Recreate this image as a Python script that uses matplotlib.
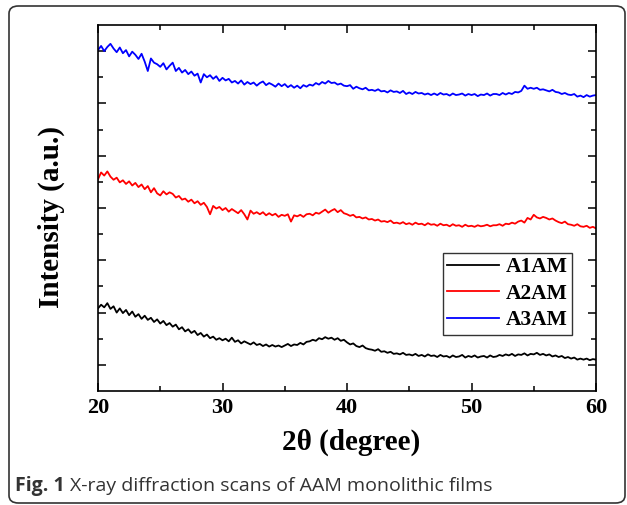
import numpy as np
import matplotlib
matplotlib.use("Agg")
import matplotlib.pyplot as plt
from matplotlib.patches import FancyBboxPatch

# 2-theta grid (degrees), 0.25 deg step
two_theta = np.arange(20.0, 60.0001, 0.25)

# Intensities (a.u., as plotted with stacking offsets)
a1am = [
    158, 165, 160, 168, 157, 162, 150, 158, 149, 155, 145, 152,
    142, 147, 138, 144, 136, 140, 132, 137, 129, 134, 126, 130,
    123, 127, 118, 122, 114, 118, 111, 115, 107, 111, 104, 108,
    101, 104, 98, 101, 97, 100, 95, 102, 94, 97, 91, 95,
    92, 89, 93, 88, 90, 86, 89, 85, 88, 85, 87, 84,
    87, 90, 86, 89, 88, 92, 89, 94, 95, 98, 96, 101,
    99, 103, 100, 102, 98, 101, 96, 98, 93, 89, 91, 86,
    84, 87, 82, 80, 79, 77, 80, 75, 76, 73, 75, 71,
    72, 70, 73, 69, 70, 68, 71, 67, 69, 66, 70, 67,
    68, 65, 69, 66, 67, 64, 68, 65, 66, 69, 64, 67,
    65, 68, 64, 66, 67, 64, 68, 65, 66, 69, 67, 70,
    68, 71, 67, 70, 69, 72, 68, 71, 70, 73, 69, 71,
    68, 70, 66, 68, 65, 67, 63, 65, 62, 64, 60, 62,
    60, 62, 59, 61, 60,
]

a2am = [
    405, 418, 412, 420, 410, 404, 408, 399, 403, 396, 401, 393,
    398, 390, 395, 386, 392, 380, 388, 378, 374, 382, 376, 380,
    377, 370, 373, 366, 368, 362, 366, 359, 363, 356, 360, 352,
    338, 354, 349, 352, 346, 350, 343, 348, 344, 340, 346, 338,
    328, 345, 339, 342, 338, 342, 336, 340, 336, 339, 333, 337,
    335, 338, 324, 336, 334, 337, 333, 338, 339, 336, 341, 339,
    343, 347, 341, 345, 348, 342, 346, 340, 338, 335, 337, 332,
    333, 330, 332, 328, 329, 326, 328, 324, 325, 323, 326, 321,
    322, 320, 323, 319, 321, 318, 322, 319, 320, 317, 321, 318,
    319, 316, 320, 317, 318, 315, 319, 316, 317, 314, 318, 315,
    316, 314, 317, 315, 316, 318, 315, 317, 317, 319, 316, 320,
    319, 322, 320, 324, 326, 322, 331, 328, 337, 332, 330, 333,
    331, 328, 330, 326, 323, 321, 324, 319, 318, 316, 319, 315,
    314, 316, 312, 314, 311,
]

a3am = [
    652, 660, 650, 658, 664, 655, 648, 657, 646, 652, 640, 649,
    643, 635, 645, 630, 612, 636, 628, 625, 620, 627, 615, 622,
    628, 612, 618, 609, 614, 606, 611, 603, 607, 590, 606, 600,
    604, 597, 602, 593, 599, 594, 597, 590, 593, 588, 594, 586,
    591, 587, 590, 584, 589, 592, 585, 589, 586, 582, 588, 583,
    587, 581, 585, 580, 584, 579, 585, 582, 586, 584, 589, 586,
    591, 588, 593, 589, 590, 586, 588, 584, 583, 585, 578, 582,
    579, 577, 580, 575, 576, 574, 577, 573, 574, 571, 575, 572,
    573, 570, 574, 568, 571, 568, 572, 569, 570, 567, 569, 566,
    569, 566, 570, 567, 568, 565, 569, 566, 567, 569, 565, 568,
    566, 568, 564, 567, 566, 569, 565, 568, 568, 566, 570, 567,
    570, 568, 572, 571, 574, 584, 578, 580, 578, 580, 576, 577,
    575, 573, 576, 572, 571, 568, 570, 567, 566, 568, 563, 565,
    562, 566, 563, 565, 566,
]

series_labels = ["A1AM", "A2AM", "A3AM"]
series_colors = ["black", "red", "blue"]
x_ticks = [20, 30, 40, 50, 60]

serif = ["Liberation Serif", "DejaVu Serif"]

fig = plt.figure(figsize=(6.27, 5.05), dpi=100)
ax = fig.add_axes([98 / 627, 1 - 391 / 505, 498 / 627, 366 / 505])

for data, lab, col in zip([a1am, a2am, a3am], series_labels, series_colors):
    ax.plot(two_theta, data, color=col, lw=1.3, label=lab)

ax.set_xlim(20, 60)
ax.set_ylim(0, 700)
ax.set_xticks(x_ticks)
ax.set_xticks(np.arange(25, 60, 10), minor=True)
ax.set_yticks(np.arange(50, 700, 100))
ax.set_yticks(np.arange(100, 700, 100), minor=True)
ax.tick_params(axis="both", which="both", direction="in", top=True, right=True,
               width=1.1)
ax.tick_params(axis="both", which="major", length=6)
ax.tick_params(axis="both", which="minor", length=3.5)
ax.tick_params(axis="y", which="both", labelleft=False)
ax.tick_params(axis="x", which="major", pad=5)
for t in ax.get_xticklabels():
    t.set_fontfamily(serif)
    t.set_fontweight("bold")
    t.set_fontsize(16)
for s in ax.spines.values():
    s.set_linewidth(1.2)

ax.set_xlabel("2θ (degree)", fontfamily=serif, fontweight="bold", fontsize=21,
              va="center")
ax.xaxis.set_label_coords(0.508, -0.139)
ax.set_ylabel("Intensity (a.u.)", fontfamily=serif, fontweight="bold", fontsize=21,
              va="center")
ax.yaxis.set_label_coords(-0.094, 0.475)

leg = ax.legend(loc="upper left", bbox_to_anchor=((443 - 98) / 498, (391 - 253) / 366),
                prop={"family": serif, "weight": "bold", "size": 15.5},
                frameon=True, fancybox=False, edgecolor="black", handlelength=2.4,
                handletextpad=0.3, borderpad=0.2, labelspacing=0.3,
                borderaxespad=0)
leg.get_frame().set_linewidth(1.0)

# caption
cap_y = 1 - 486 / 505
t1 = fig.text(15 / 627, cap_y, "Fig. 1", fontfamily="Open Sans", fontweight="bold",
              fontsize=14, color="#333333", va="center", ha="left")
fig.canvas.draw()
bb = t1.get_window_extent()
x2 = (bb.x1 + 5) / fig.bbox.width
fig.text(x2, cap_y, "X-ray diffraction scans of AAM monolithic films",
         fontfamily="Open Sans", fontsize=14, color="#333333", va="center", ha="left")

# rounded border around figure
border = FancyBboxPatch((9 / 627, 2 / 505), 616 / 627, 497 / 505,
                        boxstyle="round,pad=0,rounding_size=0.015",
                        transform=fig.transFigure, fill=False,
                        edgecolor="#333333", lw=1.2)
fig.patches.append(border)

fig.savefig("out.png", dpi=100)
